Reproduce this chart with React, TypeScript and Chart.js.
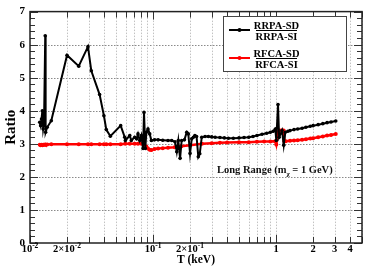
import React, { useEffect, useRef } from 'react';
import { Chart, registerables } from 'chart.js';

Chart.register(...registerables);

// ---- data ----
const rrpaT = [
  0.012, 0.0122, 0.0124, 0.0126, 0.0128, 0.013, 0.0133, 0.0134, 0.0138, 0.0149,
  0.02, 0.0249, 0.0296, 0.0315, 0.0368, 0.0399, 0.0417, 0.045, 0.0546, 0.0589,
  0.0596, 0.0647, 0.0666, 0.071, 0.0735, 0.0755, 0.078, 0.0804, 0.083, 0.0845,
  0.0866, 0.0883, 0.091, 0.094, 0.097, 0.103, 0.11, 0.12, 0.1324, 0.142,
  0.151, 0.156, 0.1606, 0.166, 0.171, 0.18, 0.188, 0.1937, 0.2, 0.2065,
  0.213, 0.219, 0.226, 0.2335, 0.24, 0.249, 0.265, 0.282, 0.3, 0.32,
  0.35, 0.38, 0.41, 0.45, 0.5, 0.55, 0.6, 0.65, 0.7, 0.77,
  0.84, 0.9, 0.95, 0.987, 1.005, 1.038, 1.06, 1.119, 1.155, 1.19,
  1.25, 1.3, 1.4, 1.5, 1.63, 1.75, 1.9, 2.0, 2.2, 2.4,
  2.6, 2.8, 3.06,
];
const rrpaRatio = [
  3.65, 3.55, 3.75, 4.0, 3.45, 3.6, 6.27, 3.35, 3.5, 3.7,
  5.68, 5.35, 5.94, 5.21, 4.49, 3.85, 3.43, 3.23, 3.55, 3.2,
  3.1, 3.25, 3.1, 3.2, 3.15, 3.3, 3.1, 3.25, 2.86, 3.95,
  2.86, 3.35, 3.45, 3.3, 3.1, 3.12, 3.12, 3.11, 3.1, 3.1,
  3.06, 2.76, 3.1, 2.56, 3.1, 3.12, 3.35, 3.3, 2.71, 3.15,
  3.2, 3.25, 3.22, 2.61, 2.7, 3.2, 3.22, 3.22, 3.21, 3.2,
  3.19, 3.18, 3.17, 3.17, 3.18, 3.19, 3.2, 3.22, 3.25, 3.29,
  3.32, 3.35, 3.38, 3.45, 3.1, 4.19, 3.2, 3.4, 2.96, 3.35,
  3.38, 3.4, 3.43, 3.45, 3.47, 3.5, 3.53, 3.55, 3.58, 3.61,
  3.64, 3.66, 3.69,
];

const rfcaT = [
  0.012, 0.0122, 0.0124, 0.0126, 0.0128, 0.013, 0.0133, 0.0134, 0.0138, 0.0149,
  0.02, 0.0249, 0.0296, 0.0315, 0.0368, 0.0399, 0.0417, 0.045, 0.0546, 0.0596,
  0.0647, 0.071, 0.0755, 0.0804, 0.083, 0.0845, 0.0883, 0.091, 0.094, 0.097,
  0.103, 0.11, 0.12, 0.1324, 0.15, 0.17, 0.2, 0.25, 0.3, 0.35,
  0.4, 0.5, 0.6, 0.7, 0.8, 0.9, 0.987, 1.005, 1.038, 1.07,
  1.119, 1.155, 1.17, 1.2, 1.3, 1.4, 1.5, 1.63, 1.75, 1.9,
  2.0, 2.2, 2.4, 2.6, 2.8, 3.06,
];
const rfcaRatio = [
  2.97, 2.96, 2.97, 2.96, 2.97, 2.97, 2.98, 2.97, 2.98, 2.99,
  2.99, 2.99, 2.99, 2.99, 2.99, 2.99, 2.99, 2.99, 2.99, 3.0,
  3.0, 3.0, 3.0, 3.0, 3.0, 2.98, 2.92, 2.86, 2.82, 2.81,
  2.84, 2.86, 2.87, 2.88, 2.9, 2.93, 2.96, 3.0, 3.02, 3.03,
  3.04, 3.05, 3.05, 3.06, 3.07, 3.07, 3.08, 2.98, 3.35, 3.4,
  3.41, 3.4, 3.08, 3.08, 3.09, 3.1, 3.11, 3.12, 3.14, 3.16,
  3.17, 3.2, 3.22, 3.25, 3.27, 3.3,
];

const xLabelValues = [0.01, 0.02, 0.1, 0.2, 1, 2, 3, 4];
const xLabelTexts = ['10^-2', '2×10^-2', '10^-1', '2×10^-1', '1', '2', '3', '4'];
const yTickValues = [0, 1, 2, 3, 4, 5, 6, 7];
const legendTop = ['RRPA-SD', 'RFCA-SD'];
const legendBottom = ['RRPA-SI', 'RFCA-SI'];
const seriesColors = ['#000000', '#ff0000'];

const X_MIN = 0.01;
const X_MAX = 5;
const Y_MIN = 0;
const Y_MAX = 7;

const SERIF = '"Liberation Serif", "Times New Roman", "DejaVu Serif", serif';

function xGridValues(): number[] {
  const out: number[] = [];
  for (let d = -2; d <= 0; d++) {
    for (let m = 1; m <= 9; m++) {
      const v = m * Math.pow(10, d);
      if (v >= X_MIN - 1e-9 && v <= X_MAX + 1e-9) out.push(Number(v.toPrecision(6)));
    }
  }
  return out;
}

const decorPlugin = {
  id: 'refDecor',
  beforeDatasetsDraw(chart: any) {
    const { ctx, chartArea: a, scales } = chart;
    const x = scales.x;
    const y = scales.y;
    ctx.save();
    ctx.lineWidth = 1;
    ctx.setLineDash([1.5, 1.5]);
    ctx.strokeStyle = '#8a8a8a';
    for (const v of yTickValues) {
      if (v === Y_MIN || v === Y_MAX) continue;
      const py = Math.round(y.getPixelForValue(v)) + 0.5;
      ctx.beginPath();
      ctx.moveTo(a.left, py);
      ctx.lineTo(a.right, py);
      ctx.stroke();
    }
    ctx.strokeStyle = '#c2c2c2';
    for (const v of xGridValues()) {
      if (v === X_MIN) continue;
      const px = Math.round(x.getPixelForValue(v)) + 0.5;
      ctx.beginPath();
      ctx.moveTo(px, a.top);
      ctx.lineTo(px, a.bottom);
      ctx.stroke();
    }
    ctx.restore();
  },
  afterDatasetsDraw(chart: any) {
    const { ctx, chartArea: a, scales } = chart;
    const x = scales.x;
    const y = scales.y;
    ctx.save();
    ctx.strokeStyle = '#333';
    ctx.lineWidth = 1;
    // y ticks (left + right, inward)
    for (let i = 0; i <= 35; i++) {
      const v = i * 0.2;
      const major = i % 5 === 0;
      const len = major ? 8 : 5;
      const py = Math.round(y.getPixelForValue(v)) + 0.5;
      ctx.beginPath();
      ctx.moveTo(a.left, py);
      ctx.lineTo(a.left + len, py);
      ctx.moveTo(a.right, py);
      ctx.lineTo(a.right - len, py);
      ctx.stroke();
    }
    // x ticks (bottom + top, inward)
    for (const v of xGridValues()) {
      const major = Math.abs(Math.log10(v) - Math.round(Math.log10(v))) < 1e-6;
      const len = major ? 8 : 6;
      const px = Math.round(x.getPixelForValue(v)) + 0.5;
      ctx.beginPath();
      ctx.moveTo(px, a.bottom);
      ctx.lineTo(px, a.bottom - len);
      ctx.moveTo(px, a.top);
      ctx.lineTo(px, a.top + len);
      ctx.stroke();
    }
    // frame
    ctx.lineWidth = 1.5;
    ctx.strokeStyle = '#222';
    ctx.strokeRect(a.left, a.top, a.right - a.left, a.bottom - a.top);
    ctx.restore();
  },
  afterDraw(chart: any) {
    const { ctx, chartArea: a, scales } = chart;
    const x = scales.x;
    ctx.save();
    ctx.fillStyle = '#000';
    ctx.textBaseline = 'alphabetic';
    // x tick labels with superscripts
    const baseY = a.bottom + 9;
    xLabelValues.forEach((v, i) => {
      const txt = xLabelTexts[i];
      const parts = txt.split('^');
      const mainFont = `bold 10.5px ${SERIF}`;
      const supFont = `bold 7.5px ${SERIF}`;
      ctx.font = mainFont;
      const w1 = ctx.measureText(parts[0]).width;
      let w2 = 0;
      if (parts[1]) {
        ctx.font = supFont;
        w2 = ctx.measureText(parts[1]).width;
      }
      const cx = x.getPixelForValue(v);
      const start = cx - (w1 + w2) / 2;
      ctx.textAlign = 'left';
      ctx.font = mainFont;
      ctx.fillText(parts[0], start, baseY);
      if (parts[1]) {
        ctx.font = supFont;
        ctx.fillText(parts[1], start + w1, baseY - 4.5);
      }
    });

    // legend box
    const bx = 223.5, by = 16.5, bw = 123, bh = 55;
    ctx.fillStyle = '#fff';
    ctx.fillRect(bx, by, bw, bh);
    ctx.strokeStyle = '#444';
    ctx.lineWidth = 1;
    ctx.strokeRect(bx, by, bw, bh);
    const rowY = [30, 58];
    for (let i = 0; i < 2; i++) {
      const ly = rowY[i];
      ctx.strokeStyle = seriesColors[i];
      ctx.lineWidth = 2;
      ctx.beginPath();
      ctx.moveTo(229, ly);
      ctx.lineTo(250, ly);
      ctx.stroke();
      ctx.fillStyle = seriesColors[i];
      ctx.beginPath();
      ctx.arc(239.5, ly, 2, 0, Math.PI * 2);
      ctx.fill();
      ctx.fillStyle = '#000';
      ctx.font = `bold 10.5px ${SERIF}`;
      ctx.textAlign = 'center';
      ctx.fillText(legendTop[i], 276.5, ly - 1.5);
      ctx.fillText(legendBottom[i], 276.5, ly + 9.5);
      ctx.strokeStyle = '#000';
      ctx.lineWidth = 1;
      ctx.beginPath();
      ctx.moveTo(256, ly + 0.5);
      ctx.lineTo(297, ly + 0.5);
      ctx.stroke();
    }

    // annotation
    ctx.fillStyle = '#111';
    ctx.textAlign = 'left';
    let tx = 217;
    const ty = 172.5;
    ctx.font = `bold 10.5px ${SERIF}`;
    ctx.fillText('Long Range (m', tx, ty);
    tx += ctx.measureText('Long Range (m').width;
    ctx.font = `bold 7px ${SERIF}`;
    ctx.fillText('χ', tx, ty + 3);
    tx += ctx.measureText('χ').width;
    ctx.font = `bold 10.5px ${SERIF}`;
    ctx.fillText(' = 1 GeV)', tx, ty);
    ctx.restore();
  },
};

export default function App() {
  const canvasRef = useRef<HTMLCanvasElement | null>(null);

  useEffect(() => {
    const canvas = canvasRef.current;
    if (!canvas) return;
    const chart = new Chart(canvas, {
      type: 'line',
      data: {
        datasets: [
          {
            label: 'RRPA-SD / RRPA-SI',
            data: rrpaT.map((t, i) => ({ x: t, y: rrpaRatio[i] })),
            borderColor: seriesColors[0],
            backgroundColor: seriesColors[0],
            borderWidth: 2,
            pointRadius: 1.8,
            pointBorderWidth: 0,
            tension: 0,
          },
          {
            label: 'RFCA-SD / RFCA-SI',
            data: rfcaT.map((t, i) => ({ x: t, y: rfcaRatio[i] })),
            borderColor: seriesColors[1],
            backgroundColor: seriesColors[1],
            borderWidth: 2.5,
            pointRadius: 2,
            pointBorderWidth: 0,
            tension: 0,
          },
        ],
      },
      options: {
        responsive: false,
        animation: false,
        devicePixelRatio: 1,
        layout: { padding: { top: 7, right: 12, left: 0, bottom: 0 } },
        plugins: {
          legend: { display: false },
          tooltip: { enabled: false },
        },
        scales: {
          x: {
            type: 'logarithmic',
            min: X_MIN,
            max: X_MAX,
            grid: { display: false },
            border: { display: false },
            ticks: { display: false },
            title: {
              display: true,
              text: 'T (keV)',
              color: '#000',
              font: { family: SERIF, size: 11.5, weight: 'bold' },
              padding: { top: 0, bottom: 3 },
            },
            afterFit: (scale: any) => {
              scale.height = 27;
            },
          },
          y: {
            type: 'linear',
            min: Y_MIN,
            max: Y_MAX,
            grid: { display: false, drawTicks: false },
            border: { display: false },
            afterBuildTicks: (scale: any) => {
              scale.ticks = yTickValues.map((v) => ({ value: v }));
            },
            ticks: {
              color: '#000',
              padding: 5,
              font: { family: SERIF, size: 11, weight: 'bold' },
              callback: (v: any) => String(v),
            },
            title: {
              display: true,
              text: 'Ratio',
              color: '#000',
              font: { family: SERIF, size: 15, weight: 'bold' },
              padding: { top: 2, bottom: 0 },
            },
            afterFit: (scale: any) => {
              scale.width = 30;
            },
          },
        },
      },
      plugins: [decorPlugin],
    } as any);
    return () => chart.destroy();
  }, []);

  return (
    <div style={{ position: 'absolute', left: 0, top: 0, width: 374, height: 270, background: '#fff' }}>
      <canvas ref={canvasRef} width={374} height={270} style={{ display: 'block' }} />
    </div>
  );
}
